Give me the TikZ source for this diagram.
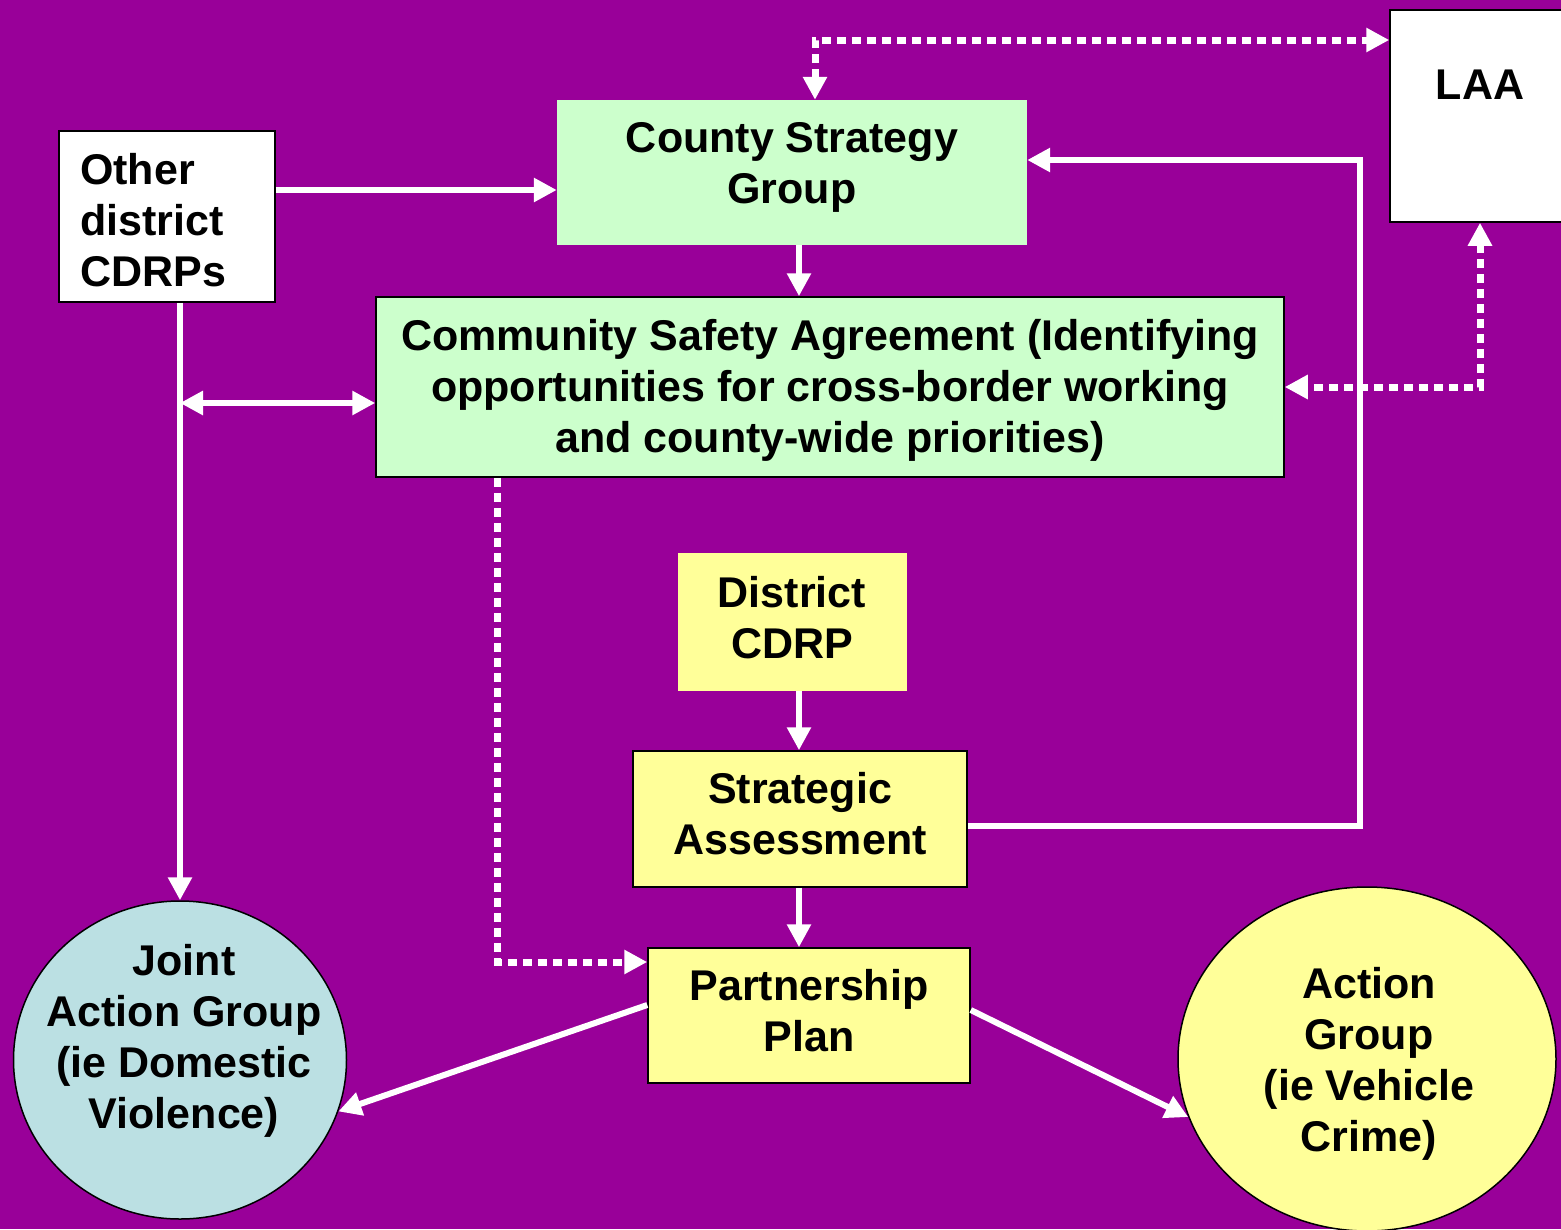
\documentclass[tikz,border=0pt]{standalone}
\usepackage{fontspec}
\setmainfont{Liberation Sans}
\usetikzlibrary{arrows.meta,shapes.geometric}
\definecolor{bgpurple}{RGB}{153,0,153}
\definecolor{boxgreen}{RGB}{204,255,204}
\definecolor{boxyellow}{RGB}{255,255,153}
\definecolor{circblue}{RGB}{187,224,227}
\begin{document}
\begin{tikzpicture}[x=1pt,y=-1pt,
  box/.style={rectangle, draw=black, line width=1.5pt, inner sep=0pt},
  plainbox/.style={rectangle, inner sep=0pt},
  circ/.style={ellipse, draw=black, line width=1.5pt, inner sep=0pt},
  lbl/.style={font=\fontsize{43}{51}\selectfont\bfseries, align=center, inner sep=0pt, text=black},
  tip/.tip={Triangle[length=23pt,width=23pt]},
  arr/.style={draw=white, line width=6pt, -tip},
  darr/.style={draw=white, line width=6pt, tip-tip},
  dots/.style={draw=white, line width=7pt, dash pattern=on 9pt off 6pt}]
\useasboundingbox (0,0) rectangle (1561,1229);
\fill[bgpurple] (0,0) rectangle (1561,1229);

% nodes
\node[box, fill=white, minimum width=180, minimum height=212] (laa) at (1480,116) {};
\node[lbl] (laatext) at (1480,85) {LAA};

\node[plainbox, fill=boxgreen, minimum width=470, minimum height=145] (csg) at (792,172.5) {};
\node[lbl] (csgtext) at (792,167) {County Strategy\\Group};

\node[box, fill=white, minimum width=216, minimum height=171] (other) at (167,216.5) {};
\node[lbl, align=left, anchor=west] (othertext) at (80,220.5) {Other\\district\\CDRPs};

\node[box, fill=boxgreen, minimum width=908, minimum height=180] (csa) at (830,387) {};
\node[lbl] (csatext) at (830,390.5) {Community Safety Agreement (Identifying\\opportunities for cross-border working\\and county-wide priorities)};

\node[plainbox, fill=boxyellow, minimum width=229, minimum height=138] (dc) at (792.5,622) {};
\node[lbl] (dctext) at (792,618) {District\\CDRP};

\node[box, fill=boxyellow, minimum width=334, minimum height=136] (sa) at (800,819) {};
\node[lbl] (satext) at (800,814) {Strategic\\Assessment};

\node[box, fill=boxyellow, minimum width=322, minimum height=135] (pp) at (809,1015.5) {};
\node[lbl] (pptext) at (809,1011) {Partnership\\Plan};

\node[circ, fill=circblue, minimum width=333, minimum height=318] (joint) at (180,1060) {};
\node[lbl] (jointtext) at (184,1040.5) {Joint\\Action Group\\(ie Domestic\\Violence)};

\node[circ, fill=boxyellow, minimum width=378, minimum height=344] (ag) at (1367,1059) {};
\node[lbl] (agtext) at (1369,1063.5) {Action\\Group\\(ie Vehicle\\Crime)};

% bend points
\coordinate (b1) at (815,40);
\coordinate (b2) at (1480,387);
\coordinate (b3) at (1360,826);
\coordinate (b4) at (1360,160);
\coordinate (b5) at (497,962);
\coordinate (b6) at (180,403);

% connectors
\draw[arr] (other.east |- 0,190) -- (csg.west |- 0,190);
\draw[arr] (csg.south -| 799,0) -- (csa.north -| 799,0);
\draw[arr] (other.south -| joint.north) -- (joint.north);
\draw[darr] (b6) -- (csa.west |- b6);
\draw[dots, tip-tip] (csg.north -| b1) -- (b1) -- (laa.west |- b1);
\draw[dots, tip-tip] (laa.south -| b2) -- (b2) -- (csa.east |- b2);
\draw[arr] (sa.east |- b3) -- (b3) -- (b4) -- (csg.east |- b4);
\draw[arr] (dc.south -| 799,0) -- (sa.north -| 799,0);
\draw[arr] (sa.south -| 799,0) -- (pp.north -| 799,0);
\draw[dots, -tip] (csa.south -| b5) -- (b5) -- (pp.west |- b5);
\draw[arr] (pp.west |- 0,1005) -- (joint.-18.5);
\draw[arr] (pp.east |- 0,1010) -- (ag.-162.7);
\end{tikzpicture}
\end{document}
